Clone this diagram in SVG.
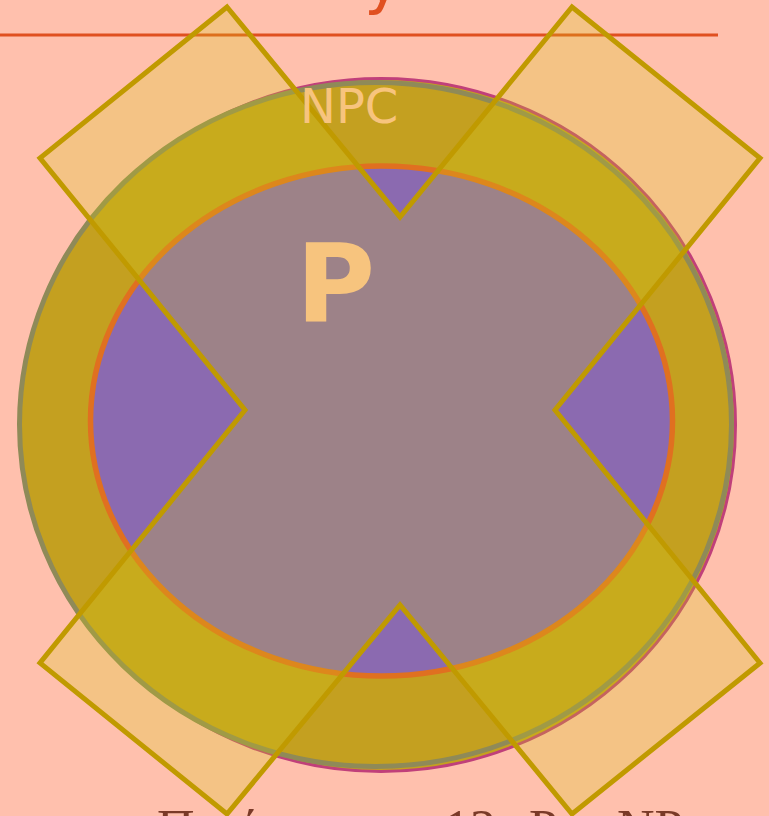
<svg xmlns="http://www.w3.org/2000/svg" width="769" height="816" viewBox="0 0 769 816">
  <style>
    .title { font-family: "DejaVu Sans", sans-serif; font-size: 64px; fill: #E05020; }
    .caption { font-family: "Liberation Serif", "Noto Sans", serif; font-size: 52px; fill: #7A3A28; }
    .lbl { font-family: "DejaVu Sans", sans-serif; fill: #F7C47E; }
    .xshape { fill: #D2CC10; fill-opacity: 0.25; stroke: #C09A00; stroke-width: 5; stroke-linejoin: miter; }
  </style>
  <rect x="0" y="0" width="769" height="816" fill="#FFC0AD"/>
  <text class="title" x="364" y="2">y</text>
  <line x1="0" y1="35" x2="718" y2="35" stroke="#E05020" stroke-width="3"/>

  <g id="NPC">
    <ellipse cx="381" cy="425" rx="354.5" ry="346.5" fill="#C4A020" stroke="#C0407A" stroke-width="3"/>
    <ellipse cx="375.5" cy="424.5" rx="356" ry="342" fill="#C4A020" stroke="#8F8A58" stroke-width="5"/>
  </g>
  <g id="P">
    <ellipse cx="381.5" cy="421" rx="291" ry="255" fill="#8B6AB0" stroke="#E07020" stroke-width="5.5"/>
  </g>
  <g id="NP">
    <polygon class="xshape" points="227,7 400,217 572,7 760,158 555,410 760,663 572,814 400,605 227,814 40,663 245,410 40,158"/>
  </g>
  <g id="labels">
    <text class="lbl" x="300" y="123" font-size="48">NPC</text>
    <text class="lbl" x="296" y="322" font-size="108" font-weight="bold">P</text>
  </g>
  <text class="caption" y="846"><tspan x="157">Περίπτωση</tspan><tspan x="431"> 12:</tspan><tspan x="529">P = </tspan><tspan x="617">NP</tspan></text>
</svg>
